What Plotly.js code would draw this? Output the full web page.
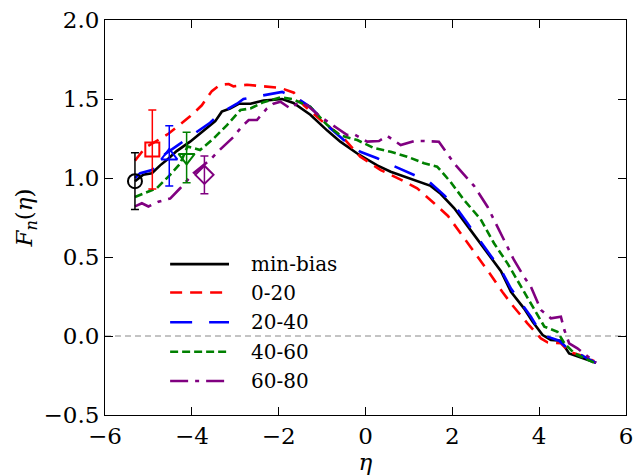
<!DOCTYPE html>
<html>
<head>
<meta charset="utf-8">
<script src="https://cdn.plot.ly/plotly-3.0.1.min.js"></script>
<style>html,body{margin:0;padding:0;background:#fff;}</style>
</head>
<body>
<div id="chart" style="width:633px;height:475px;"></div>
<script>
// ---- data ----
const seriesNames = ['min-bias', '0-20', '20-40', '40-60', '60-80'];

const etaMinBias = [-5.31,-5.12,-4.92,-4.73,-4.55,-4.35,-4.04,-3.65,-3.46,-3.31,-3.12,-2.92,-2.65,-2.35,-1.92,-1.66,-1.27,-0.88,-0.58,-0.19,0.27,0.58,1.12,1.50,1.73,2.04,2.42,2.88,3.12,3.35,3.65,3.85,4.08,4.27,4.50,4.69,5.04,5.31];
const fMinBias   = [0.98,1.02,1.03,1.08,1.12,1.17,1.23,1.32,1.36,1.42,1.44,1.47,1.47,1.49,1.50,1.475,1.40,1.30,1.23,1.155,1.08,1.04,0.99,0.95,0.90,0.81,0.67,0.50,0.41,0.28,0.175,0.09,0.006,-0.025,-0.03,-0.11,-0.146,-0.17];

const eta0020 = [-5.31,-5.08,-4.54,-4.23,-4.04,-3.77,-3.54,-3.35,-3.15,-3.04,-2.73,-2.35,-2.12,-1.96,-1.65,-1.42,-0.96,-0.50,-0.12,0.35,0.81,1.19,1.58,1.90,2.19,2.50,2.85,3.15,3.38,3.73,4.04,4.19,4.50,4.69,5.04,5.27];
const f0020   = [1.11,1.19,1.28,1.35,1.39,1.46,1.55,1.59,1.595,1.58,1.59,1.58,1.575,1.57,1.54,1.46,1.35,1.25,1.135,1.05,0.99,0.935,0.84,0.76,0.65,0.535,0.40,0.28,0.196,0.08,-0.015,-0.04,-0.046,-0.10,-0.13,-0.16];

const eta2040 = [-5.31,-5.19,-4.92,-4.62,-4.31,-3.88,-3.58,-3.35,-2.96,-2.81,-2.35,-1.92,-1.58,-1.27,-0.81,-0.50,-0.12,0.27,0.65,1.04,1.46,1.81,2.12,2.35,2.62,2.88,3.12,3.35,3.62,3.81,4.04,4.19,4.46,4.65,4.96,5.31];
const f2040   = [1.00,1.03,1.05,1.15,1.21,1.29,1.35,1.41,1.47,1.50,1.525,1.545,1.505,1.45,1.315,1.24,1.166,1.125,1.076,1.03,0.977,0.892,0.80,0.713,0.608,0.515,0.418,0.30,0.196,0.122,0.017,-0.004,-0.03,-0.078,-0.12,-0.17];

const eta4060 = [-5.31,-5.04,-4.81,-4.50,-4.27,-4.10,-3.81,-3.50,-3.19,-2.88,-2.65,-2.35,-1.96,-1.69,-1.27,-0.88,-0.58,-0.19,0.19,0.58,0.96,1.35,1.65,1.96,2.27,2.65,2.96,3.27,3.58,3.88,4.12,4.42,4.58,4.81,5.27];
const f4060   = [0.88,0.91,0.935,1.02,1.09,1.20,1.177,1.25,1.335,1.43,1.44,1.48,1.51,1.50,1.45,1.335,1.27,1.24,1.19,1.166,1.135,1.093,1.072,0.975,0.86,0.74,0.587,0.46,0.312,0.165,0.059,0.027,-0.046,-0.11,-0.17];

const eta6080 = [-5.31,-5.15,-5.00,-4.77,-4.50,-4.27,-3.96,-3.58,-3.35,-3.04,-2.85,-2.69,-2.50,-2.27,-2.12,-1.96,-1.73,-1.58,-1.35,-1.04,-0.65,-0.42,-0.27,0.04,0.31,0.50,0.81,1.12,1.35,1.69,2.04,2.27,2.50,2.81,3.04,3.19,3.42,3.65,3.81,4.04,4.27,4.50,4.58,4.69,4.88,5.12,5.31];
const f6080   = [0.82,0.84,0.82,0.85,0.87,0.935,1.03,1.115,1.18,1.26,1.325,1.367,1.367,1.44,1.47,1.483,1.44,1.47,1.462,1.388,1.315,1.272,1.278,1.23,1.234,1.266,1.209,1.234,1.234,1.23,1.093,1.019,0.95,0.818,0.692,0.608,0.481,0.375,0.312,0.165,0.112,0.122,0.038,-0.046,-0.078,-0.13,-0.17];

// data points with error bars (one per class)
const markerEta = [-5.31, -4.91, -4.52, -4.12, -3.71];
const markerF   = [0.98, 1.18, 1.14, 1.13, 1.02];
const markerErr = [0.18, 0.25, 0.19, 0.16, 0.12];

const xTicks = [-6, -4, -2, 0, 2, 4, 6];
const yTicks = [-0.5, 0.0, 0.5, 1.0, 1.5, 2.0];
const refLevel = [0];

// ---- styles ----
const colors  = ['#000000', '#ff0000', '#0000ff', '#008000', '#800080'];
const dashes  = ['solid', '12px,8px', '22px,17px', '8px,4px', '18px,7px,4px,7px'];
const symbols = ['circle-open', 'square-open', 'triangle-up-open', 'triangle-down-open', 'diamond-open'];

const etaAll = [etaMinBias, eta0020, eta2040, eta4060, eta6080];
const fAll   = [fMinBias, f0020, f2040, f4060, f6080];

const traces = [];
for (let i = 0; i < seriesNames.length; i++) {
  traces.push({
    type: 'scatter', mode: 'lines', name: seriesNames[i],
    x: etaAll[i], y: fAll[i],
    line: {color: colors[i], width: 2.6, dash: dashes[i]},
    showlegend: false, hoverinfo: 'skip'
  });
}
for (let i = 0; i < markerEta.length; i++) {
  traces.push({
    type: 'scatter', mode: 'markers', name: seriesNames[i] + ' data',
    x: [markerEta[i]], y: [markerF[i]],
    marker: {symbol: symbols[i], size: 14, color: colors[i], line: {color: colors[i], width: 2}},
    error_y: {type: 'data', array: [markerErr[i]], visible: true, color: colors[i], thickness: 1.5, width: 4},
    showlegend: false, hoverinfo: 'skip'
  });
}

// manual legend (matplotlib-style long samples)
const legX0 = 0.125, legX1 = 0.238, legTextX = 0.276;
const legY = [0.382, 0.310, 0.235, 0.160, 0.086];
const shapes = [{
  type: 'line', xref: 'paper', x0: 0, x1: 1, yref: 'y', y0: refLevel[0], y1: refLevel[0],
  line: {color: '#888888', width: 1, dash: '6px,4px'}, layer: 'below'
}];
const annotations = [];
for (let i = 0; i < seriesNames.length; i++) {
  shapes.push({type: 'line', xref: 'paper', yref: 'paper', x0: legX0, x1: legX1, y0: legY[i], y1: legY[i],
    line: {color: colors[i], width: 2.6, dash: dashes[i]}});
  annotations.push({xref: 'paper', yref: 'paper', x: legTextX, y: legY[i], xanchor: 'left', yanchor: 'middle',
    text: seriesNames[i], showarrow: false, font: {family: 'DejaVu Serif', size: 20, color: '#000'}});
}

const axisCommon = {
  showgrid: false, zeroline: false, showline: true, linecolor: '#000', linewidth: 1,
  mirror: 'ticks', ticks: 'inside', ticklen: 8, tickwidth: 1, tickcolor: '#000',
  ticklabeloverflow: 'allow',
  tickfont: {family: 'DejaVu Serif', size: 23, color: '#000'}
};

const layout = {
  width: 633, height: 475,
  margin: {l: 105, r: 7, t: 20, b: 60, pad: 0},
  paper_bgcolor: '#fff', plot_bgcolor: '#fff',
  font: {family: 'DejaVu Serif', size: 20, color: '#000'},
  showlegend: false,
  xaxis: Object.assign({}, axisCommon, {
    range: [-6, 6], tickmode: 'array', tickvals: xTicks,
    ticktext: xTicks.map(v => v < 0 ? '\u2212' + Math.abs(v) : String(v)),
    title: {text: '<i>η</i>', font: {family: 'DejaVu Serif', size: 23}, standoff: 2}
  }),
  yaxis: Object.assign({}, axisCommon, {
    range: [-0.5, 2.0], tickmode: 'array', tickvals: yTicks,
    ticktext: yTicks.map(v => (v < 0 ? '\u2212' : '') + Math.abs(v).toFixed(1)),
    title: {text: '<i>F</i><sub><i>n</i></sub>(<i>η</i>)', font: {family: 'DejaVu Serif', size: 23}, standoff: 4}
  }),
  shapes: shapes,
  annotations: annotations
};

Plotly.newPlot('chart', traces, layout, {displayModeBar: false, staticPlot: true});
</script>
</body>
</html>
